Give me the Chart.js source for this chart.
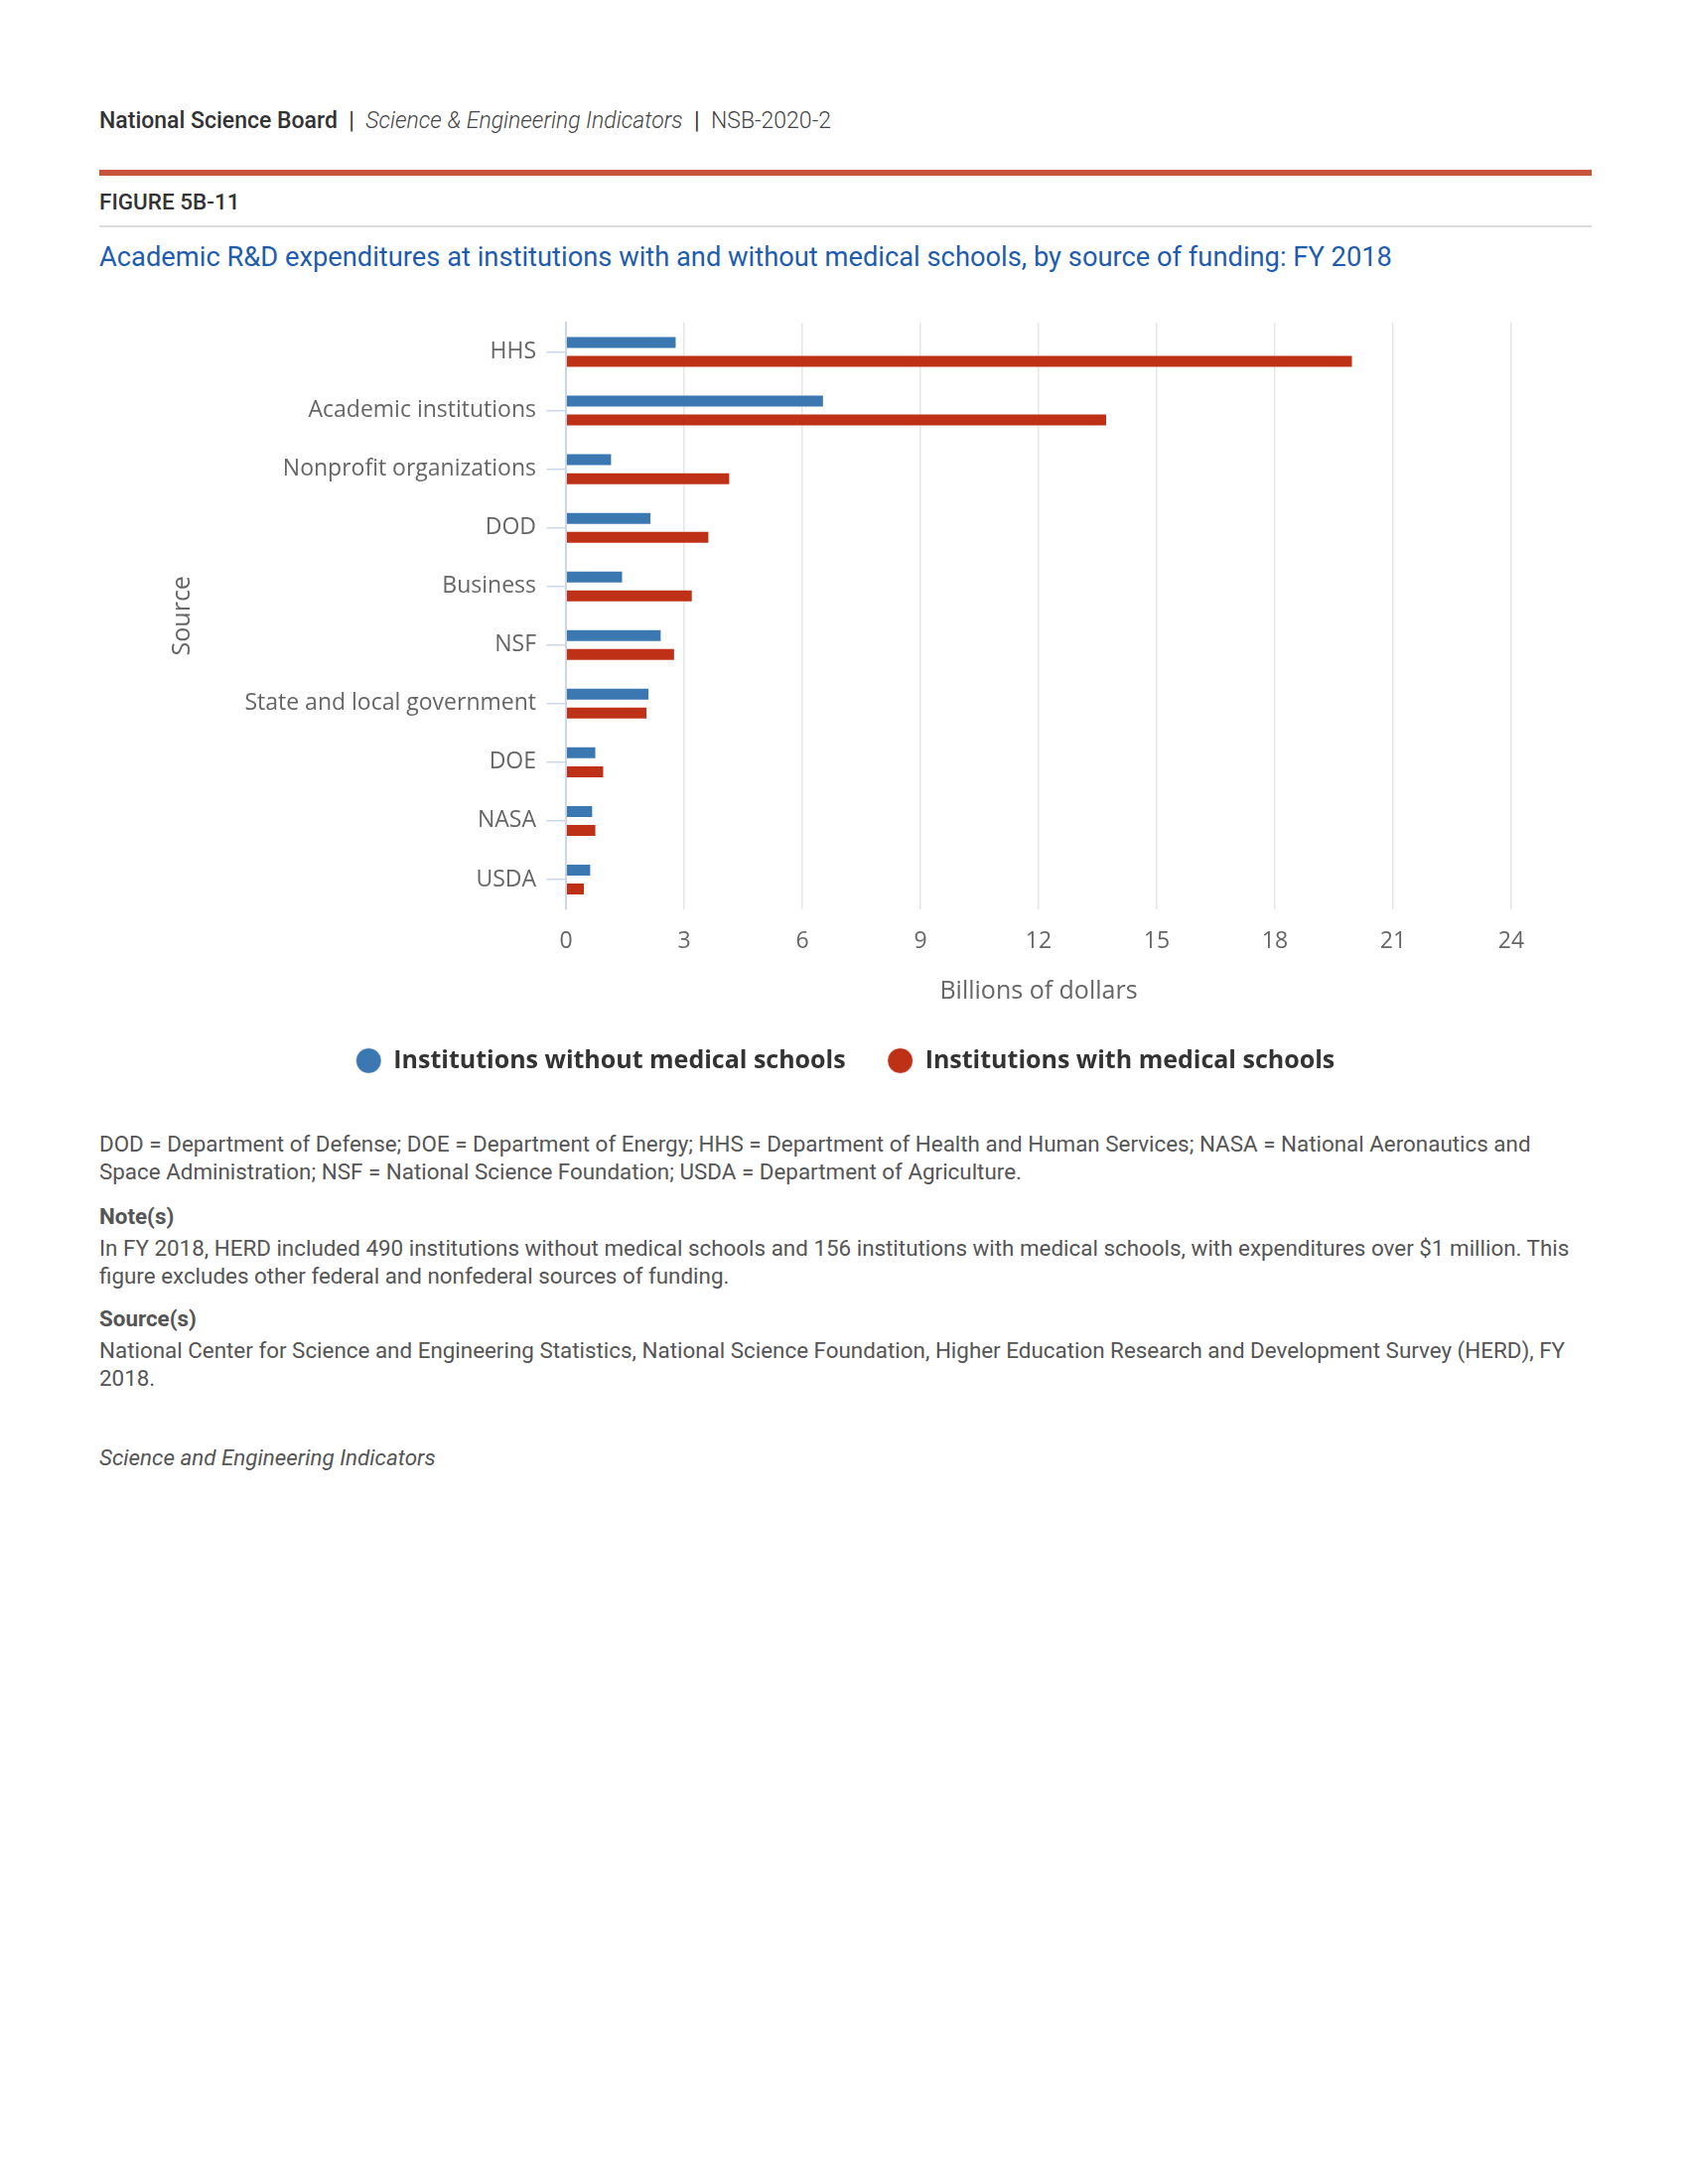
<!DOCTYPE html>
<html>
<head>
<meta charset="utf-8">
<script src="https://cdn.jsdelivr.net/npm/chart.js@4.4.1/dist/chart.umd.min.js"></script>
<style>
  body { margin: 0; background: #fff; width: 1700px; height: 2200px; position: relative; font-family: Roboto, sans-serif; }
  .t { position: absolute; left: 100px; white-space: nowrap; }
  .hdr { top: 107px; line-height: 30px; font-size: 23px; color: #333; }
  .hdr b { font-weight: 500; }
  .hdr i { font-weight: 300; color: #444; }
  .hdr span { font-weight: 300; color: #444; }
  .fig { top: 188px; line-height: 30px; font-size: 22.5px; font-weight: 500; color: #333; }
  .ttl { top: 244px; line-height: 30px; font-size: 27.3px; color: #1f5cad; }
  .ft { font-size: 22.4px; line-height: 28px; color: #555; }
  .ft.h { font-weight: 700; }
</style>
</head>
<body>
<div class="t hdr"><b>National Science Board</b> &nbsp;|&nbsp; <i>Science &amp; Engineering Indicators</i> &nbsp;|&nbsp; <span>NSB-2020-2</span></div>
<div style="position:absolute;left:100px;top:171px;width:1503px;height:6px;background:#c8533b"></div>
<div class="t fig">FIGURE 5B-11</div>
<div style="position:absolute;left:100px;top:227px;width:1503px;height:2px;background:#dddddd"></div>
<div class="t ttl">Academic R&amp;D expenditures at institutions with and without medical schools, by source of funding: FY 2018</div>

<div style="position:absolute;left:100px;top:300px;width:1503px;height:791px">
  <canvas id="chart" width="1503" height="791"></canvas>
</div>

<div class="t ft" style="top:1138px">DOD = Department of Defense; DOE = Department of Energy; HHS = Department of Health and Human Services; NASA = National Aeronautics and<br>Space Administration; NSF = National Science Foundation; USDA = Department of Agriculture.</div>
<div class="t ft h" style="top:1211px">Note(s)</div>
<div class="t ft" style="top:1243px">In FY 2018, HERD included 490 institutions without medical schools and 156 institutions with medical schools, with expenditures over $1 million. This<br>figure excludes other federal and nonfederal sources of funding.</div>
<div class="t ft h" style="top:1314px">Source(s)</div>
<div class="t ft" style="top:1346px">National Center for Science and Engineering Statistics, National Science Foundation, Higher Education Research and Development Survey (HERD), FY<br>2018.</div>
<div class="t ft" style="top:1454px"><i>Science and Engineering Indicators</i></div>

<script>
const sources = ['HHS', 'Academic institutions', 'Nonprofit organizations', 'DOD', 'Business', 'NSF',
  'State and local government', 'DOE', 'NASA', 'USDA'];
const withoutMedical = [2.81, 6.55, 1.17, 2.17, 1.45, 2.43, 2.12, 0.77, 0.69, 0.64];
const withMedical = [19.98, 13.74, 4.17, 3.64, 3.22, 2.77, 2.07, 0.97, 0.77, 0.48];
const seriesNames = ['Institutions without medical schools', 'Institutions with medical schools'];
const seriesColors = ['#3b78b1', '#bf3116'];

Chart.defaults.font.family = "'Open Sans', sans-serif";

// keep the legend centred on the whole canvas, not just the padded box
const centerLegend = {
  id: 'centerLegend',
  afterLayout(chart) {
    const lg = chart.legend;
    if (!lg) return;
    lg.left = 0;
    lg.right = chart.width;
    lg.width = chart.width;
  }
};

new Chart(document.getElementById('chart'), {
  type: 'bar',
  data: {
    labels: sources,
    datasets: [{
      label: seriesNames[0],
      data: withoutMedical,
      backgroundColor: seriesColors[0],
      borderColor: 'rgba(255,255,255,0.5)',
      borderWidth: 1
    }, {
      label: seriesNames[1],
      data: withMedical,
      backgroundColor: seriesColors[1],
      borderColor: 'rgba(255,255,255,0.5)',
      borderWidth: 1
    }]
  },
  options: {
    indexAxis: 'y',
    responsive: false,
    animation: false,
    categoryPercentage: 0.644,
    barPercentage: 0.684,
    layout: { padding: { left: 0, right: 81, top: 25, bottom: 0 } },
    scales: {
      y: {
        grid: { drawOnChartArea: false, offset: false, tickLength: 19.5, color: '#ccd6eb', lineWidth: 1.5 },
        border: { display: true, color: '#ccd6eb', width: 2 },
        ticks: { padding: 10.5, color: '#666', font: { size: 23 } },
        title: { display: true, text: 'Source', color: '#666', font: { size: 25 }, padding: { top: 69, bottom: 0 } },
        afterFit(scale) { scale.width = 470; }
      },
      x: {
        min: 0,
        max: 24,
        ticks: { stepSize: 3, padding: 19, color: '#666', font: { size: 23 } },
        grid: {
          drawTicks: false,
          lineWidth: 1.5,
          color: (ctx) => (ctx.tick && ctx.tick.value === 0) ? 'rgba(0,0,0,0)' : '#e6e6e6'
        },
        border: { display: false },
        title: { display: true, text: 'Billions of dollars', color: '#666', font: { size: 25 }, padding: { top: 0, bottom: 0 } },
        afterFit(scale) { scale.height = 98; }
      }
    },
    plugins: {
      tooltip: { enabled: false },
      legend: {
        position: 'bottom',
        labels: {
          usePointStyle: true,
          pointStyle: 'circle',
          boxWidth: 25,
          boxHeight: 18,
          padding: 42.5,
          color: '#333',
          font: { size: 25, weight: 'bold' }
        }
      }
    }
  },
  plugins: [centerLegend]
});
</script>
</body>
</html>
